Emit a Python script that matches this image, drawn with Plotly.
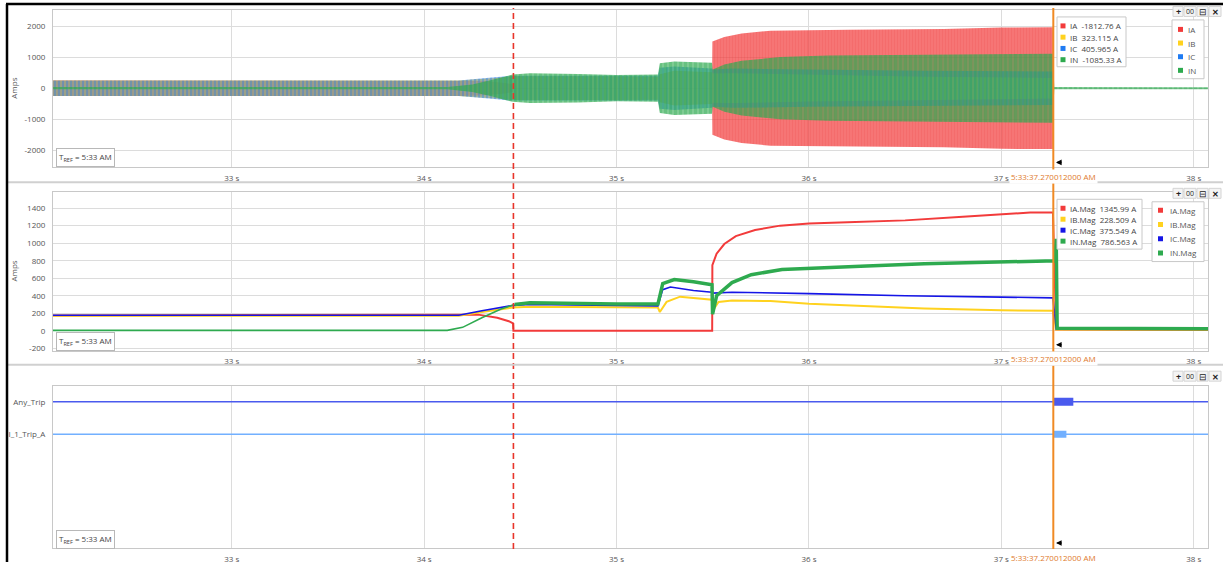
import plotly.graph_objects as go

W, H = 1223, 564
FONT = "Open Sans, Noto Sans, sans-serif"

# ===================== DATA =====================
x_tick_vals = [33, 34, 35, 36, 37, 38]
x_tick_text = ['33 s', '34 s', '35 s', '36 s', '37 s', '38 s']

fault_time = 34.464            # red dashed marker (s)
cursor_time = 37.270012        # cursor position (s)
cursor_label = '5:33:37.270012000 AM'
tref_label = 'T<sub>REF</sub> = 5:33 AM'

# Panel 1 - sampled currents, drawn as their peak envelope (A) read from the record
t_IA = [32.07, 34.20, 34.32, 34.42, 34.462, 34.465, 35.496, 35.498, 35.56, 35.65, 35.80, 36.20, 36.70, 37.00, 37.268, 37.272, 38.08]
pk_IA = [250, 250, 230, 170, 120, 0, 0, 1500, 1650, 1760, 1850, 1880, 1900, 1950, 1960, 0, 0]
t_IB = [32.07, 34.18, 34.35, 34.46, 35.00, 35.215, 35.225, 35.30, 35.496, 35.50, 35.60, 36.00, 36.60, 37.268, 37.272, 38.08]
pk_IB = [250, 250, 320, 380, 380, 370, 450, 560, 510, 470, 480, 430, 370, 330, 0, 0]
t_IC = [32.07, 34.18, 34.35, 34.46, 35.00, 35.215, 35.225, 35.30, 35.496, 35.50, 35.60, 36.00, 36.60, 37.268, 37.272, 38.08]
pk_IC = [250, 250, 340, 400, 400, 400, 660, 700, 630, 600, 630, 600, 560, 540, 0, 0]
t_IN = [32.07, 34.12, 34.25, 34.35, 34.46, 34.55, 34.80, 35.00, 35.215, 35.225, 35.30, 35.496, 35.50, 35.56, 35.65, 35.85, 36.10, 36.60, 37.00, 37.268, 37.275, 38.08]
pk_IN = [35, 35, 120, 260, 440, 480, 460, 420, 440, 800, 860, 820, 600, 760, 880, 1000, 1050, 1080, 1100, 1110, 35, 30]

# Panel 2 - RMS magnitudes (A)
t_IAm = [32.07, 34.15, 34.28, 34.38, 34.44, 34.462, 34.464, 35.497, 35.498, 35.52, 35.56, 35.62, 35.72, 35.85, 36.0, 36.2, 36.5, 36.8, 37.0, 37.15, 37.268, 37.285, 38.08]
IA_mag = [175, 178, 185, 150, 110, 85, 0, 0, 750, 880, 990, 1080, 1150, 1200, 1225, 1240, 1260, 1300, 1330, 1350, 1350, 15, 10]
t_IBm = [32.07, 34.18, 34.30, 34.40, 34.46, 34.55, 35.0, 35.215, 35.225, 35.26, 35.33, 35.45, 35.496, 35.50, 35.53, 35.6, 35.8, 36.0, 36.3, 36.6, 37.0, 37.268, 37.285, 38.08]
IB_mag = [172, 172, 215, 250, 265, 275, 268, 265, 215, 330, 390, 360, 355, 230, 330, 345, 340, 310, 280, 255, 235, 229, 15, 15]
t_ICm = [32.07, 34.18, 34.30, 34.40, 34.46, 34.55, 35.0, 35.215, 35.24, 35.28, 35.4, 35.496, 35.5, 35.6, 36.0, 36.5, 37.0, 37.268, 37.285, 38.08]
IC_mag = [178, 178, 230, 270, 290, 300, 285, 285, 470, 500, 460, 440, 430, 440, 425, 400, 385, 376, 25, 20]
t_INm = [32.07, 34.12, 34.2, 34.3, 34.4, 34.47, 34.55, 35.0, 35.215, 35.24, 35.3, 35.4, 35.496, 35.499, 35.52, 35.6, 35.7, 35.86, 36.0, 36.3, 36.6, 37.0, 37.268, 37.28, 37.285, 37.29, 38.08]
IN_mag = [5, 5, 40, 150, 250, 300, 320, 305, 305, 540, 585, 560, 525, 190, 400, 550, 640, 700, 715, 740, 765, 790, 800, 800, 1050, 30, 25]

# Panel 3 - digital channels
trip_names = ['Any_Trip', 'I_1_Trip_A']
trip_on = [37.270, 37.270]
trip_off = [37.374, 37.338]

# Cursor read-outs
cur_names_1 = ['IA', 'IB', 'IC', 'IN']
cur_vals_1 = ['-1812.76 A', '323.115 A', '405.965 A', '-1085.33 A']
cur_names_2 = ['IA.Mag', 'IB.Mag', 'IC.Mag', 'IN.Mag']
cur_vals_2 = ['1345.99 A', '228.509 A', '375.549 A', '786.563 A']

# ===================== STYLE =====================
C1 = ['#F23B3B', '#FFD21F', '#1F7BF2', '#2EAA4F']
C2 = ['#F23B3B', '#FFD21F', '#1515E6', '#2EAA4F']
TRIP_C = ['#4A5AEE', '#72B0FF']
X_RANGE = [32.071, 38.074]
XD = [53 / W, 1208 / W]


def ydom(top, bot):
    return [1 - bot / H, 1 - top / H]


def rgba(hexc, a):
    h = hexc.lstrip('#')
    return 'rgba(%d,%d,%d,%.2f)' % (int(h[0:2], 16), int(h[2:4], 16), int(h[4:6], 16), a)


fig = go.Figure()

# ---- panel 1 bands (vertical hatch = dense oscillation) ----
pat = [(3, 0.889, 0.5), (5, 0.84, 0.55), (4, 0.75, 0.25), (5, 0.84, 0.45)]
for (t, pk), c, (sz, so, ba) in zip([(t_IA, pk_IA), (t_IB, pk_IB), (t_IC, pk_IC), (t_IN, pk_IN)], C1, pat):
    xs = t + t[::-1]
    ys = pk + [-v for v in pk[::-1]]
    fig.add_trace(go.Scatter(
        x=xs, y=ys, xaxis='x', yaxis='y', mode='lines', fill='toself',
        line=dict(width=0, color=c), fillcolor='rgba(0,0,0,0)',
        fillpattern=dict(shape='|', size=sz, solidity=so, fgcolor=c, bgcolor=rgba(c, ba)),
        hoverinfo='skip', showlegend=False))

# ---- panel 2 lines ----
for (t, v), c, w in zip([(t_IAm, IA_mag), (t_IBm, IB_mag), (t_ICm, IC_mag)], C2[:3], [2, 2, 1.6]):
    fig.add_trace(go.Scatter(x=t, y=v, xaxis='x2', yaxis='y2', mode='lines',
                             line=dict(color=c, width=w), hoverinfo='skip', showlegend=False))
# neutral: thin before the fault, wide (noisy) afterwards
k = next(i for i, tt in enumerate(t_INm) if tt >= fault_time)
fig.add_trace(go.Scatter(x=t_INm[:k + 1], y=IN_mag[:k + 1], xaxis='x2', yaxis='y2', mode='lines',
                         line=dict(color=C2[3], width=1.6), hoverinfo='skip', showlegend=False))
fig.add_trace(go.Scatter(x=t_INm[k:], y=IN_mag[k:], xaxis='x2', yaxis='y2', mode='lines',
                         line=dict(color=C2[3], width=3.5), hoverinfo='skip', showlegend=False))

# ---- panel 3 digital ----
levels = [9, 7]
for name, lvl, on, off, c, bw in zip(trip_names, levels, trip_on, trip_off, TRIP_C, [8, 7]):
    fig.add_trace(go.Scatter(x=[X_RANGE[0], X_RANGE[1]], y=[lvl, lvl], xaxis='x3', yaxis='y3', mode='lines',
                             line=dict(color=c, width=1.5), hoverinfo='skip', showlegend=False))
    fig.add_trace(go.Scatter(x=[on, off], y=[lvl, lvl], xaxis='x3', yaxis='y3', mode='lines',
                             line=dict(color=c, width=bw), hoverinfo='skip', showlegend=False))

tickfont = dict(family=FONT, size=8, color='#555')
xcommon = dict(domain=XD, range=X_RANGE, tickvals=x_tick_vals, ticktext=x_tick_text,
               showgrid=True, gridcolor='#dcdcdc', gridwidth=1, showline=True, mirror=True,
               linecolor='#c8c8c8', linewidth=1, zeroline=False, ticks='outside', ticklen=3,
               tickcolor='rgba(0,0,0,0)', tickfont=tickfont, fixedrange=True)
ycommon = dict(showgrid=True, gridcolor='#dcdcdc', gridwidth=1, showline=True, mirror=True,
               linecolor='#c8c8c8', linewidth=1, zeroline=False, ticks='outside', ticklen=5,
               tickcolor='rgba(0,0,0,0)', tickfont=tickfont, fixedrange=True)

y1_ticks = [-2000, -1000, 0, 1000, 2000]
y2_ticks = [-200, 0, 200, 400, 600, 800, 1000, 1200, 1400]

fig.update_layout(
    width=W, height=H, margin=dict(l=0, r=0, t=0, b=0),
    paper_bgcolor='white', plot_bgcolor='white', showlegend=False,
    xaxis=dict(anchor='y', **xcommon),
    xaxis2=dict(anchor='y2', **xcommon),
    xaxis3=dict(anchor='y3', **xcommon),
    yaxis=dict(anchor='x', domain=ydom(10, 168), range=[-2548, 2516], tickvals=y1_ticks,
               ticktext=[str(v) for v in y1_ticks], **ycommon),
    yaxis2=dict(anchor='x2', domain=ydom(193, 352), range=[-227, 1580], tickvals=y2_ticks,
                ticktext=[str(v) for v in y2_ticks], **ycommon),
    yaxis3=dict(anchor='x3', domain=ydom(387, 550), range=[0, 10], tickvals=levels,
                ticktext=trip_names, **dict(ycommon, showgrid=False)),
)

shapes = []
ann = []


def rect(x0, y0, x1, y1, fill='white', line='#c8c8c8', lw=1):
    shapes.append(dict(type='rect', xref='paper', yref='paper', x0=x0 / W, x1=x1 / W,
                       y0=1 - y1 / H, y1=1 - y0 / H, fillcolor=fill,
                       line=dict(color=line, width=lw), layer='above'))


def hline(y, x0, x1, color, w):
    shapes.append(dict(type='line', xref='paper', yref='paper', x0=x0 / W, x1=x1 / W,
                       y0=1 - y / H, y1=1 - y / H, line=dict(color=color, width=w), layer='above'))


def text(x, y, s, size=8, color='#333', xanchor='left', **kw):
    ann.append(dict(xref='paper', yref='paper', x=x / W, y=1 - y / H, text=s, showarrow=False,
                    xanchor=xanchor, yanchor='middle', font=dict(family=FONT, size=size, color=color), **kw))


# markers spanning all panels
shapes.append(dict(type='line', xref='x', yref='paper', x0=fault_time, x1=fault_time,
                   y0=1 - 551 / H, y1=1 - 8 / H, line=dict(color='#E8352B', width=1.6, dash='6px,4px'),
                   layer='above'))
shapes.append(dict(type='line', xref='x', yref='paper', x0=cursor_time, x1=cursor_time,
                   y0=1 - 551 / H, y1=1 - 8 / H, line=dict(color='#F08A24', width=2), layer='above'))

# panel separators and frame
hline(183, 8, W, '#d0d0d0', 2)
hline(366, 8, W, '#d0d0d0', 2)
shapes.append(dict(type='line', xref='paper', yref='paper', x0=7 / W, x1=7 / W, y0=0, y1=1 - 4 / H,
                   line=dict(color='black', width=2.5), layer='above'))
hline(4, 6, W, 'black', 2.5)

# T_REF boxes, cursor labels, arrows, Amps titles
for (bt, lab_y, arr_y) in [(158.5, 177, 163), (343, 360, 346), (541, 559, 545)]:
    text(56, bt, tref_label, size=8, color='#444', bgcolor='white', bordercolor='#b8b8b8',
         borderwidth=1, borderpad=2)
    ann.append(dict(xref='x', yref='paper', x=cursor_time, y=1 - lab_y / H, text=cursor_label,
                    showarrow=False, xanchor='center', yanchor='middle', bgcolor='white',
                    font=dict(family=FONT, size=8, color='#E07A2C')))
    ann.append(dict(xref='paper', yref='paper', x=1056 / W, y=1 - arr_y / H, ax=7, ay=0, text='',
                    showarrow=True, arrowhead=2, arrowsize=0.7, arrowwidth=1.6, arrowcolor='black'))

for yc in [89, 272.5]:
    text(14, yc, 'Amps', size=8, color='#555', xanchor='center', textangle=-90)

# cursor legends (panel 1)
rect(1057, 17, 1126, 67)
for i, (n, v, c) in enumerate(zip(cur_names_1, cur_vals_1, C1)):
    y = 26 + i * 11.3
    rect(1060.5, y - 2.5, 1065.5, y + 2.5, fill=c, line=c, lw=0)
    text(1068, y, n + '\u00a0\u00a0' + v, size=8, color='#444')
rect(1172, 20, 1204, 79)
for i, (n, c) in enumerate(zip(cur_names_1, C1)):
    y = 29.5 + i * 13.7
    rect(1178, y - 2.5, 1183, y + 2.5, fill=c, line=c, lw=0)
    text(1186, y, n, size=8, color='#555')

# cursor legends (panel 2)
rect(1057, 200, 1142, 250)
for i, (n, v, c) in enumerate(zip(cur_names_2, cur_vals_2, C2)):
    y = 209 + i * 11
    rect(1060.5, y - 2.5, 1065.5, y + 2.5, fill=c, line=c, lw=0)
    text(1068, y, n + '\u00a0\u00a0' + v, size=8, color='#444')
rect(1152, 202.5, 1204, 262.5)
for i, (n, c) in enumerate(zip(cur_names_2, C2)):
    y = 211 + i * 14.3
    rect(1158, y - 2.5, 1163, y + 2.5, fill=c, line=c, lw=0)
    text(1168, y, n, size=8, color='#555')

# toolbar buttons
for yb in [11.5, 194, 377.5]:
    for (bx0, bx1, sym, fs) in [(1173, 1183, '<b>+</b>', 9), (1184, 1196, '00', 7),
                                (1197, 1208, '⊟', 9), (1209, 1221, '<b>✕</b>', 8)]:
        rect(bx0, yb - 5, bx1, yb + 5, fill='#f4f4f4', line='#d4d4d4')
        text((bx0 + bx1) / 2, yb, sym, size=fs, color='#222', xanchor='center')

fig.update_layout(shapes=shapes, annotations=ann)
# the page body has a default 8px margin; remove it so the figure fills the window exactly
fig.write_html('out.html', config={'displayModeBar': False},
               post_script="document.body.style.margin='0px';")
